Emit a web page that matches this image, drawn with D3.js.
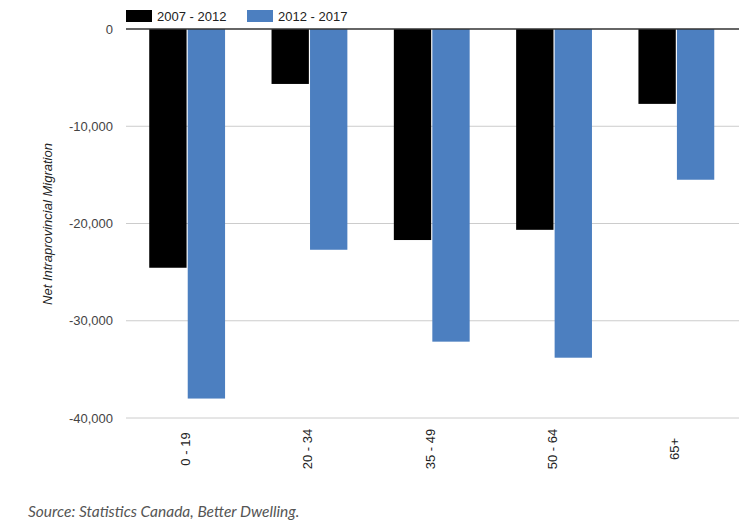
<!DOCTYPE html>
<html>
<head>
<meta charset="utf-8">
<script src="https://cdn.jsdelivr.net/npm/d3@7"></script>
<style>
  body { margin: 0; background: #fff; }
  svg { display: block; }
</style>
</head>
<body>
<script>
// data
const ageGroups = ["0 - 19", "20 - 34", "35 - 49", "50 - 64", "65+"];
const periods = ["2007 - 2012", "2012 - 2017"];
const values2007 = [-24550, -5650, -21700, -20650, -7700];
const values2012 = [-38000, -22700, -32150, -33800, -15500];
const yTicks = [0, -10000, -20000, -30000, -40000];
const colors = ["#000000", "#4c7fc0"];

const width = 745;
const height = 529;

const svg = d3.select("body").append("svg")
  .attr("width", width)
  .attr("height", height);

const rows = ageGroups.map((g, i) => ({ group: g, vals: [values2007[i], values2012[i]] }));

const x0 = d3.scaleBand().domain(ageGroups).range([126, 737.5])
  .paddingInner(0.38).paddingOuter(0.19);
const x1 = d3.scaleBand().domain(periods).range([0, x0.bandwidth()]).paddingInner(0.03);
const y = d3.scaleLinear().domain([0, -40000]).range([29, 418]);

// gridlines
svg.append("g")
  .selectAll("line")
  .data(yTicks.filter(d => d !== 0))
  .join("line")
  .attr("x1", 126)
  .attr("x2", 739)
  .attr("y1", d => y(d))
  .attr("y2", d => y(d))
  .attr("stroke", "#cccccc")
  .attr("stroke-width", 1);

// y tick labels
svg.append("g")
  .selectAll("text")
  .data(yTicks)
  .join("text")
  .attr("x", 113)
  .attr("y", d => y(d))
  .attr("dy", "0.35em")
  .attr("text-anchor", "end")
  .attr("font-family", "Liberation Sans, Arial, sans-serif")
  .attr("font-size", 13)
  .attr("fill", "#444")
  .text(d => d3.format(",")(d).replace("−", "-"));

// bars
svg.append("g")
  .selectAll("g")
  .data(rows)
  .join("g")
  .attr("transform", d => `translate(${x0(d.group)},0)`)
  .selectAll("rect")
  .data(d => d.vals.map((v, i) => ({ key: periods[i], value: v, i })))
  .join("rect")
  .attr("x", d => x1(d.key))
  .attr("width", x1.bandwidth())
  .attr("y", y(0))
  .attr("height", d => y(d.value) - y(0))
  .attr("fill", d => colors[d.i]);

// zero line
svg.append("line")
  .attr("x1", 126).attr("x2", 739)
  .attr("y1", y(0)).attr("y2", y(0))
  .attr("stroke", "#333")
  .attr("stroke-width", 1.5);

// x labels (rotated, centred under each group)
svg.append("g")
  .selectAll("text")
  .data(ageGroups)
  .join("text")
  .attr("transform", d => `translate(${x0(d) + x0.bandwidth() / 2 + 3},449) rotate(-90)`)
  .attr("text-anchor", "middle")
  .attr("font-family", "Liberation Sans, Arial, sans-serif")
  .attr("font-size", 13)
  .attr("fill", "#222")
  .text(d => d);

// y title
svg.append("text")
  .attr("transform", "translate(52,224) rotate(-90)")
  .attr("text-anchor", "middle")
  .attr("font-family", "Liberation Sans, Arial, sans-serif")
  .attr("font-size", 13)
  .attr("font-style", "italic")
  .attr("fill", "#222")
  .text("Net Intraprovincial Migration");

// legend
const legend = svg.append("g")
  .selectAll("g")
  .data(periods)
  .join("g")
  .attr("transform", (d, i) => `translate(${126 + i * 121},10)`);
legend.append("rect")
  .attr("width", 26).attr("height", 12)
  .attr("fill", (d, i) => colors[i]);
legend.append("text")
  .attr("x", 31).attr("y", 11)
  .attr("font-family", "Liberation Sans, Arial, sans-serif")
  .attr("font-size", 13)
  .attr("fill", "#222")
  .text(d => d);

// source
svg.append("text")
  .attr("x", 28).attr("y", 517)
  .attr("font-family", "Lato, sans-serif")
  .attr("font-size", 15.5)
  .attr("font-style", "italic")
  .attr("fill", "#555")
  .text("Source: Statistics Canada, Better Dwelling.");
</script>
</body>
</html>
